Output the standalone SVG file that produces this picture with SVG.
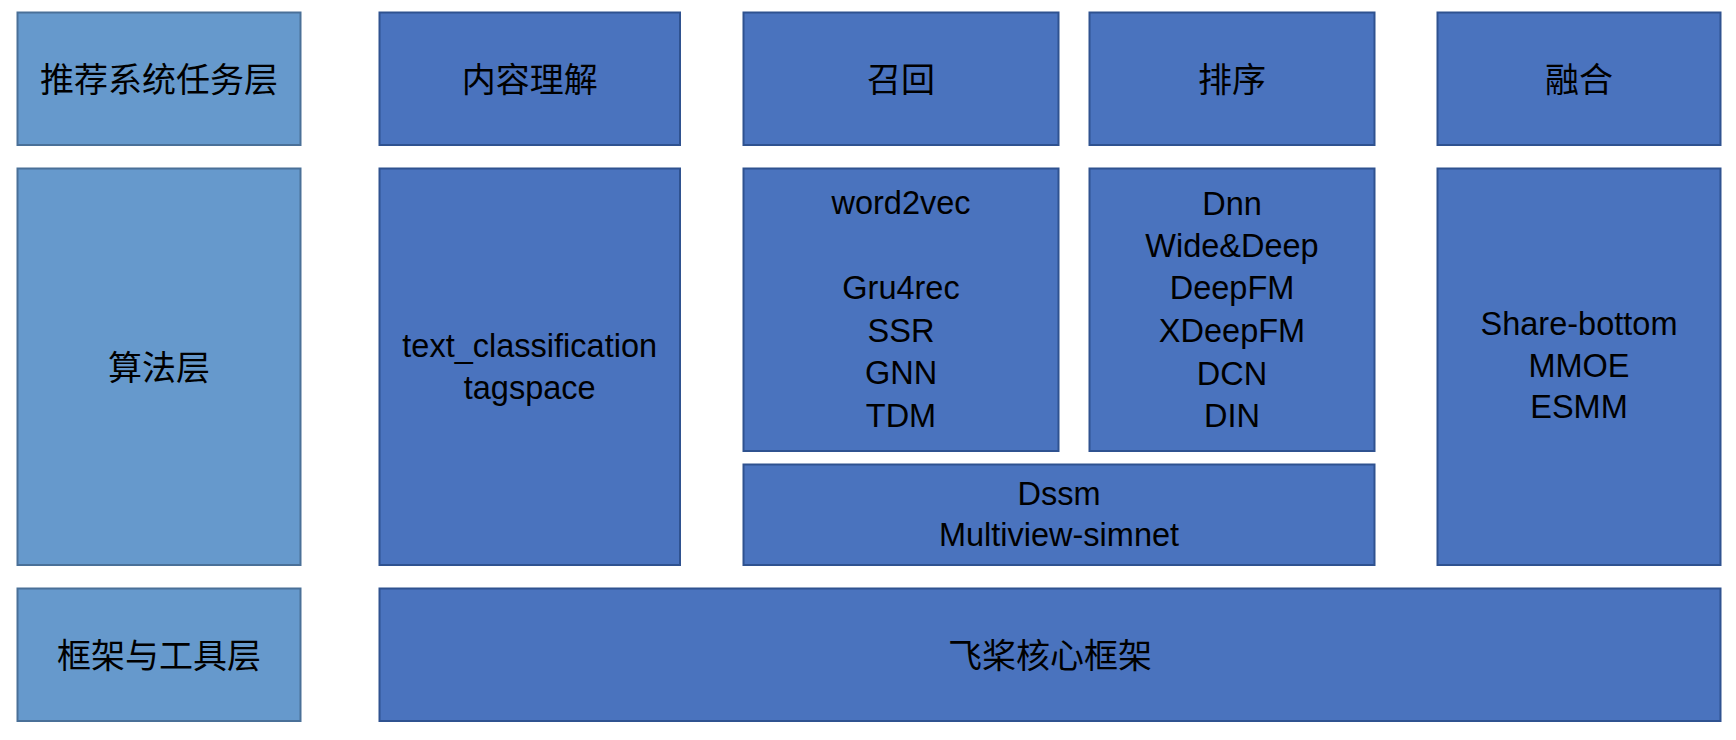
<svg xmlns="http://www.w3.org/2000/svg" width="1736" height="740" viewBox="0 0 1736 740">
<style>
  .layer { fill: #6699CC; stroke: #4A7098; stroke-width: 2; }
  .box { fill: #4A73BE; stroke: #2F5290; stroke-width: 2; }
  .zh { font-family: "Noto Sans CJK SC", "Noto Sans CJK JP", sans-serif; font-size: 34px; fill: #000; text-anchor: middle; }
  .en { font-family: "Liberation Sans", Arial, sans-serif; font-size: 32.5px; fill: #000; text-anchor: middle; }
</style>
<rect width="1736" height="740" fill="#FFFFFF"/>
<g id="connectors"/>
<g id="layer-task">
  <rect class="layer" x="17.5" y="12.5" width="283" height="132.5"/>
  <text class="zh" x="159" y="91.5">推荐系统任务层</text>
</g>
<g id="layer-algo">
  <rect class="layer" x="17.5" y="168.5" width="283" height="396.5"/>
  <text class="zh" x="159" y="379.5">算法层</text>
</g>
<g id="layer-framework">
  <rect class="layer" x="17.5" y="588.5" width="283" height="132.5"/>
  <text class="zh" x="159" y="667.5">框架与工具层</text>
</g>
<g id="task-content">
  <rect class="box" x="379.5" y="12.5" width="300.5" height="132.5"/>
  <text class="zh" x="529.7" y="91.5">内容理解</text>
</g>
<g id="task-recall">
  <rect class="box" x="743.5" y="12.5" width="315" height="132.5"/>
  <text class="zh" x="901" y="91.5">召回</text>
</g>
<g id="task-rank">
  <rect class="box" x="1089.5" y="12.5" width="285" height="132.5"/>
  <text class="zh" x="1232" y="91.5">排序</text>
</g>
<g id="task-fusion">
  <rect class="box" x="1437.5" y="12.5" width="283" height="132.5"/>
  <text class="zh" x="1579" y="91.5">融合</text>
</g>
<g id="algo-content">
  <rect class="box" x="379.5" y="168.5" width="300.5" height="396.5"/>
  <text class="en" x="529.7" y="357">text_classification</text>
  <text class="en" x="529.7" y="399">tagspace</text>
</g>
<g id="algo-recall">
  <rect class="box" x="743.5" y="168.5" width="315" height="282.5"/>
  <text class="en" x="901" y="214">word2vec</text>
  <text class="en" x="901" y="298.5">Gru4rec</text>
  <text class="en" x="901" y="341.5">SSR</text>
  <text class="en" x="901" y="384">GNN</text>
  <text class="en" x="901" y="426.5">TDM</text>
</g>
<g id="algo-rank">
  <rect class="box" x="1089.5" y="168.5" width="285" height="282.5"/>
  <text class="en" x="1232" y="214.5">Dnn</text>
  <text class="en" x="1232" y="257">Wide&amp;Deep</text>
  <text class="en" x="1232" y="299">DeepFM</text>
  <text class="en" x="1232" y="342">XDeepFM</text>
  <text class="en" x="1232" y="384.5">DCN</text>
  <text class="en" x="1232" y="426.5">DIN</text>
</g>
<g id="algo-match">
  <rect class="box" x="743.5" y="464.5" width="631" height="100.5"/>
  <text class="en" x="1059" y="504.5">Dssm</text>
  <text class="en" x="1059" y="545.5">Multiview-simnet</text>
</g>
<g id="algo-fusion">
  <rect class="box" x="1437.5" y="168.5" width="283" height="396.5"/>
  <text class="en" x="1579" y="335">Share-bottom</text>
  <text class="en" x="1579" y="376.5">MMOE</text>
  <text class="en" x="1579" y="418">ESMM</text>
</g>
<g id="framework-core">
  <rect class="box" x="379.5" y="588.5" width="1341" height="132.5"/>
  <text class="zh" x="1050" y="667.5">飞桨核心框架</text>
</g>
</svg>
